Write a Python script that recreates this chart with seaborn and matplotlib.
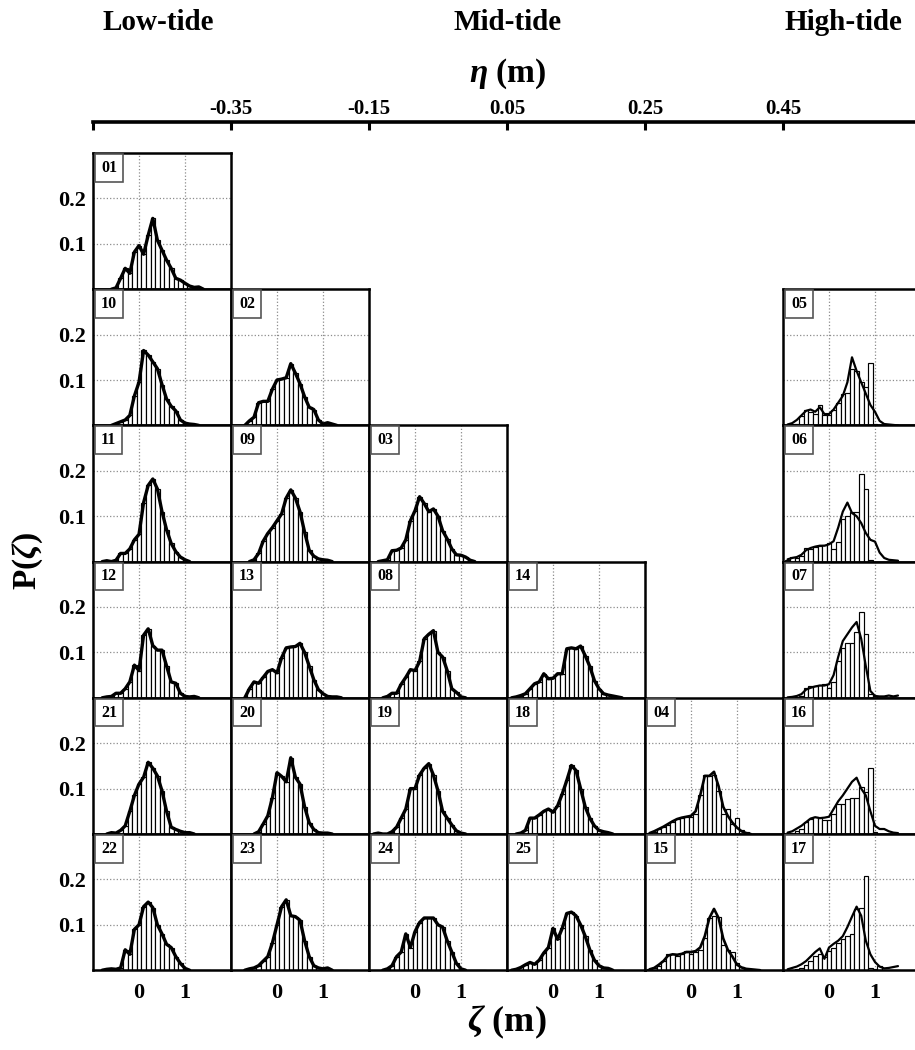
import numpy as np
import pandas as pd
import matplotlib
matplotlib.use("Agg")
import matplotlib.pyplot as plt
import seaborn as sns

sns.set_style("white")
plt.rcParams["font.family"] = ["Liberation Serif", "DejaVu Serif"]
plt.rcParams["font.weight"] = "bold"
plt.rcParams["text.color"] = "black"
plt.rcParams["axes.labelcolor"] = "black"
plt.rcParams["xtick.color"] = "black"
plt.rcParams["ytick.color"] = "black"
plt.rcParams["mathtext.fontset"] = "custom"
plt.rcParams["mathtext.rm"] = "Liberation Serif:bold"
plt.rcParams["mathtext.it"] = "Liberation Serif:italic:bold"
plt.rcParams["mathtext.bf"] = "Liberation Serif:bold"

# bin centres of the surface-elevation histograms (m)
ZETA = [-0.9, -0.8, -0.7, -0.6, -0.5, -0.4, -0.3, -0.2, -0.1, 0.0, 0.1, 0.2, 0.3,
        0.4, 0.5, 0.6, 0.7, 0.8, 0.9, 1.0, 1.1, 1.2, 1.3, 1.4, 1.5]

# probability per bin, one list per record
p01 = [0, 0, 0, 0, 0.003, 0.024, 0.046, 0.035, 0.082, 0.096, 0.077, 0.119, 0.156, 0.108, 0.086, 0.064, 0.046, 0.024, 0.020, 0.013, 0.007, 0.004, 0.005, 0, 0]
p10 = [0, 0, 0, 0, 0.004, 0.008, 0.012, 0.022, 0.065, 0.095, 0.165, 0.155, 0.14, 0.125, 0.09, 0.058, 0.042, 0.032, 0.012, 0.005, 0.003, 0.002, 0, 0, 0]
p02 = [0, 0, 0, 0.01, 0.018, 0.05, 0.053, 0.053, 0.08, 0.1, 0.102, 0.105, 0.136, 0.115, 0.092, 0.063, 0.04, 0.035, 0.012, 0.003, 0.006, 0.003, 0, 0, 0]
p11 = [0, 0, 0.002, 0, 0.003, 0.018, 0.018, 0.028, 0.048, 0.06, 0.13, 0.168, 0.182, 0.16, 0.11, 0.07, 0.04, 0.022, 0.01, 0.004, 0, 0, 0, 0, 0]
p09 = [0, 0, 0, 0, 0.004, 0.018, 0.045, 0.062, 0.075, 0.09, 0.105, 0.14, 0.158, 0.14, 0.11, 0.065, 0.025, 0.012, 0.006, 0.004, 0.003, 0, 0, 0, 0]
p03 = [0, 0, 0.002, 0.004, 0.024, 0.025, 0.03, 0.048, 0.09, 0.112, 0.143, 0.128, 0.11, 0.116, 0.1, 0.068, 0.05, 0.028, 0.015, 0.014, 0.01, 0.003, 0, 0, 0]
p12 = [0, 0, 0.002, 0.003, 0.01, 0.01, 0.02, 0.035, 0.072, 0.06, 0.138, 0.152, 0.115, 0.105, 0.105, 0.07, 0.035, 0.032, 0.01, 0.003, 0.002, 0.003, 0, 0, 0]
p13 = [0, 0, 0, 0.02, 0.035, 0.032, 0.045, 0.058, 0.062, 0.055, 0.088, 0.11, 0.112, 0.113, 0.12, 0.1, 0.07, 0.04, 0.018, 0.009, 0.003, 0.002, 0.002, 0, 0]
p08 = [0, 0, 0, 0.003, 0.01, 0.01, 0.03, 0.045, 0.062, 0.06, 0.08, 0.13, 0.14, 0.148, 0.1, 0.09, 0.06, 0.02, 0.012, 0.002, 0, 0, 0, 0, 0]
p14 = [0, 0.002, 0.005, 0.009, 0.02, 0.031, 0.035, 0.053, 0.042, 0.043, 0.053, 0.053, 0.108, 0.11, 0.108, 0.114, 0.093, 0.069, 0.038, 0.02, 0.009, 0.006, 0.004, 0.002, 0]
p21 = [0, 0, 0, 0.003, 0.002, 0.008, 0.018, 0.05, 0.085, 0.11, 0.125, 0.158, 0.145, 0.128, 0.095, 0.05, 0.015, 0.01, 0.006, 0.003, 0.003, 0, 0, 0, 0]
p20 = [0, 0, 0, 0, 0, 0.005, 0.022, 0.04, 0.08, 0.135, 0.127, 0.115, 0.168, 0.125, 0.11, 0.06, 0.025, 0.01, 0.003, 0.002, 0.002, 0, 0, 0, 0]
p19 = [0, 0.002, 0, 0, 0.005, 0.015, 0.035, 0.055, 0.1, 0.1, 0.13, 0.145, 0.155, 0.13, 0.095, 0.05, 0.035, 0.02, 0.007, 0.002, 0, 0, 0, 0, 0]
p18 = [0, 0, 0.002, 0.008, 0.035, 0.035, 0.042, 0.05, 0.055, 0.048, 0.062, 0.088, 0.118, 0.151, 0.14, 0.1, 0.06, 0.035, 0.018, 0.008, 0.005, 0.003, 0, 0, 0]
p22 = [0, 0, 0.002, 0.003, 0.002, 0.005, 0.045, 0.035, 0.09, 0.1, 0.14, 0.15, 0.138, 0.1, 0.08, 0.057, 0.05, 0.03, 0.015, 0.004, 0, 0, 0, 0, 0]
p23 = [0, 0, 0, 0.003, 0.005, 0.01, 0.02, 0.03, 0.06, 0.1, 0.14, 0.155, 0.12, 0.118, 0.11, 0.065, 0.03, 0.01, 0.005, 0.003, 0.005, 0, 0, 0, 0]
p24 = [0, 0, 0, 0.003, 0.01, 0.03, 0.04, 0.08, 0.05, 0.085, 0.105, 0.115, 0.115, 0.115, 0.1, 0.095, 0.065, 0.04, 0.015, 0.003, 0, 0, 0, 0, 0]
p25 = [0, 0.002, 0.006, 0.012, 0.017, 0.013, 0.022, 0.038, 0.05, 0.092, 0.068, 0.092, 0.125, 0.128, 0.12, 0.1, 0.075, 0.045, 0.022, 0.01, 0.005, 0.004, 0, 0, 0]
p04 = [0.002, 0.005, 0.01, 0.015, 0.02, 0.027, 0.033, 0.035, 0.037, 0.038, 0.044, 0.085, 0.13, 0.128, 0.13, 0.095, 0.045, 0.055, 0.022, 0.035, 0.008, 0.004, 0, 0, 0]
p15 = [0.002, 0.005, 0.01, 0.02, 0.035, 0.035, 0.032, 0.035, 0.043, 0.035, 0.04, 0.045, 0.07, 0.115, 0.12, 0.118, 0.055, 0.045, 0.04, 0.015, 0.008, 0.003, 0, 0, 0]
p05 = [0, 0.002, 0.004, 0.02, 0.033, 0.03, 0.025, 0.045, 0.022, 0.022, 0.033, 0.05, 0.07, 0.072, 0.125, 0.12, 0.095, 0.085, 0.138, 0.003, 0, 0, 0, 0, 0]
p06 = [0.003, 0.01, 0.008, 0.012, 0.03, 0.028, 0.032, 0.035, 0.037, 0.04, 0.028, 0.043, 0.094, 0.1, 0.11, 0.11, 0.193, 0.16, 0.003, 0, 0, 0, 0, 0, 0]
p07 = [0, 0, 0.002, 0.005, 0.022, 0.025, 0.025, 0.028, 0.03, 0.022, 0.035, 0.082, 0.11, 0.12, 0.12, 0.145, 0.19, 0.14, 0.008, 0.003, 0, 0, 0, 0, 0]
p16 = [0, 0.003, 0.006, 0.012, 0.026, 0.033, 0.037, 0.035, 0.03, 0.03, 0.044, 0.066, 0.066, 0.077, 0.08, 0.08, 0.103, 0.092, 0.146, 0.005, 0, 0, 0, 0, 0]
p17 = [0, 0, 0.003, 0.005, 0.012, 0.02, 0.031, 0.035, 0.028, 0.043, 0.05, 0.06, 0.068, 0.075, 0.08, 0.134, 0.138, 0.208, 0.005, 0.003, 0.01, 0, 0, 0, 0]

# companion distributions drawn as curves where they differ from the histogram
l04 = [0.002, 0.006, 0.011, 0.016, 0.022, 0.028, 0.033, 0.036, 0.038, 0.04, 0.05, 0.085, 0.128, 0.128, 0.137, 0.105, 0.06, 0.04, 0.025, 0.014, 0.006, 0.002, 0, 0, 0]
l15 = [0.002, 0.005, 0.012, 0.02, 0.032, 0.035, 0.034, 0.036, 0.04, 0.04, 0.042, 0.05, 0.075, 0.115, 0.135, 0.115, 0.07, 0.045, 0.03, 0.012, 0.006, 0.003, 0.002, 0.001, 0]
l05 = [0.002, 0.005, 0.012, 0.022, 0.032, 0.035, 0.03, 0.04, 0.025, 0.025, 0.035, 0.05, 0.065, 0.095, 0.15, 0.12, 0.095, 0.07, 0.045, 0.03, 0.01, 0.003, 0.002, 0.001, 0]
l06 = [0.005, 0.008, 0.01, 0.015, 0.025, 0.03, 0.033, 0.035, 0.035, 0.038, 0.045, 0.075, 0.11, 0.13, 0.107, 0.1, 0.085, 0.063, 0.048, 0.044, 0.02, 0.008, 0.004, 0.003, 0.002]
l07 = [0.001, 0.002, 0.004, 0.008, 0.018, 0.022, 0.025, 0.027, 0.027, 0.03, 0.05, 0.09, 0.125, 0.14, 0.155, 0.167, 0.13, 0.07, 0.015, 0.004, 0.003, 0.003, 0.005, 0.003, 0.005]
l16 = [0.003, 0.006, 0.012, 0.018, 0.026, 0.034, 0.037, 0.035, 0.036, 0.038, 0.055, 0.072, 0.085, 0.1, 0.115, 0.124, 0.1, 0.085, 0.05, 0.018, 0.011, 0.011, 0.006, 0.003, 0.002]
l17 = [0.002, 0.005, 0.008, 0.013, 0.02, 0.03, 0.04, 0.048, 0.025, 0.05, 0.058, 0.065, 0.075, 0.095, 0.118, 0.14, 0.12, 0.065, 0.035, 0.018, 0.008, 0.004, 0.005, 0.007, 0.009]

BARS = {"01": p01, "10": p10, "02": p02, "11": p11, "09": p09, "03": p03,
        "12": p12, "13": p13, "08": p08, "14": p14, "21": p21, "20": p20,
        "19": p19, "18": p18, "22": p22, "23": p23, "24": p24, "25": p25,
        "04": p04, "15": p15, "05": p05, "06": p06, "07": p07, "16": p16, "17": p17}
CURVES = {"04": l04, "15": l15, "05": l05, "06": l06, "07": l07, "16": l16, "17": l17}
HIGH_TIDE = {"05", "06", "07", "16", "17"}

# panel arrangement: rows share a tide class, columns step through mean water level
PANEL_GRID = [
    ["01", None, None, None, None, None],
    ["10", "02", None, None, None, "05"],
    ["11", "09", "03", None, None, "06"],
    ["12", "13", "08", "14", None, "07"],
    ["21", "20", "19", "18", "04", "16"],
    ["22", "23", "24", "25", "15", "17"],
]

ETA_TICKS = [-0.55, -0.35, -0.15, 0.05, 0.25, 0.45]
ETA_LABELS = ["", "-0.35", "-0.15", "0.05", "0.25", "0.45"]
TIDE_LABELS = ["Low-tide", "Mid-tide", "High-tide"]

W, H = 915, 1050
fig = plt.figure(figsize=(W / 100, H / 100), dpi=100)

x0, y0 = 93, 153
pw, ph = 138, 136.2
edges = [round(z - 0.05, 2) for z in ZETA] + [round(ZETA[-1] + 0.05, 2)]


def fig_rect(left, top, width, height):
    return [left / W, 1 - (top + height) / H, width / W, height / H]


nrows = len(PANEL_GRID)
for r, row in enumerate(PANEL_GRID):
    for c, name in enumerate(row):
        if name is None:
            continue
        ax = fig.add_axes(fig_rect(x0 + c * pw, y0 + r * ph, pw, ph))
        df = pd.DataFrame({"zeta": ZETA, "p": BARS[name],
                           "curve": CURVES.get(name, BARS[name])})
        sns.histplot(data=df, x="zeta", weights="p", bins=edges, ax=ax,
                     stat="count", color="white", edgecolor="black",
                     linewidth=0.85, alpha=1.0, zorder=2)
        nz = np.nonzero(df["curve"].to_numpy())[0]
        seg = df.iloc[max(nz[0] - 1, 0):min(nz[-1] + 2, len(df))]
        lw = 1.6 if name in HIGH_TIDE else (1.9 if name in CURVES else 2.4)
        sns.lineplot(data=seg, x="zeta", y="curve", ax=ax, color="black",
                     linewidth=lw, zorder=3, legend=False, sort=False)

        ax.set_xlim(-1, 2)
        ax.set_ylim(0, 0.3)
        ax.set_xticks([0, 1])
        ax.set_yticks([0.1, 0.2])
        ax.set_xticklabels(["0", "1"])
        ax.set_yticklabels(["0.1", "0.2"])
        ax.set_xlabel("")
        ax.set_ylabel("")
        ax.grid(True, linestyle=":", color="#8c8c8c", linewidth=0.9)
        ax.set_axisbelow(True)
        ax.tick_params(length=0, labelsize=16, pad=5, labelcolor="black",
                       labelleft=(c == 0), labelbottom=(r == nrows - 1))
        ax.tick_params(axis="x", pad=9)
        for lab in ax.get_xticklabels() + ax.get_yticklabels():
            lab.set_fontweight("bold")
        for sp in ax.spines.values():
            sp.set_visible(True)
            sp.set_linewidth(1.8)
            sp.set_color("black")
            sp.set_zorder(5)
        ax.text(0.058, 0.95, name, transform=ax.transAxes, ha="left", va="top",
                fontsize=11.5, fontweight="bold", color="black", zorder=6,
                bbox=dict(boxstyle="square,pad=0.36", fc="white", ec="#555555", lw=1.2))

# mean water level axis across the top
span = 900
ax_top = fig.add_axes(fig_rect(x0, 122, span, 0.01))
ax_top.set_xlim(ETA_TICKS[0], ETA_TICKS[0] + 0.2 * span / pw)
ax_top.set_yticks([])
ax_top.set_xticks(ETA_TICKS)
ax_top.set_xticklabels(ETA_LABELS)
for side in ("left", "right", "top"):
    ax_top.spines[side].set_visible(False)
ax_top.spines["bottom"].set_linewidth(2.6)
ax_top.spines["bottom"].set_color("black")
ax_top.patch.set_visible(False)
ax_top.tick_params(axis="x", direction="out", length=5.5, width=2.2,
                   bottom=True, top=False, labelbottom=False, labeltop=True,
                   labelsize=15, pad=-3, colors="black")
for lab in ax_top.get_xticklabels():
    lab.set_fontweight("bold")

fig.text(508 / W, 1 - 74 / H, r"$\eta$ (m)", ha="center", va="center",
         fontsize=24, fontweight="bold", color="black")
for label, xc in zip(TIDE_LABELS, [158, 508, 843]):
    fig.text(xc / W, 1 - 23 / H, label, ha="center", va="center",
             fontsize=21, fontweight="bold", color="black")

fig.text(507 / W, 1 - 1022 / H, r"$\zeta$ (m)", ha="center", va="center",
         fontsize=26, fontweight="bold", color="black")
fig.text(28 / W, 1 - 561 / H, r"P($\zeta$)", ha="center", va="center",
         rotation=90, fontsize=24, fontweight="bold", color="black")

fig.savefig("out.png", dpi=100)
